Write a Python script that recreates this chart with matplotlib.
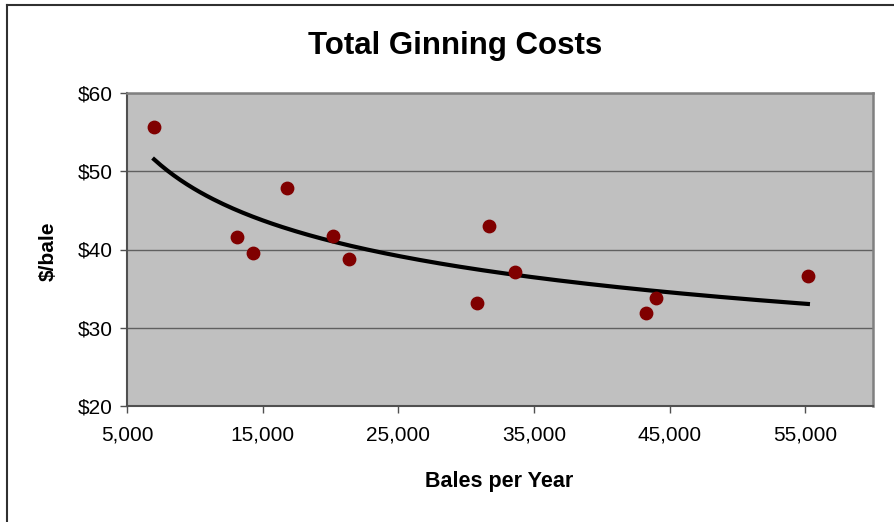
import matplotlib.pyplot as plt
import numpy as np
from matplotlib.lines import Line2D
from matplotlib.ticker import FuncFormatter

plt.rcParams['font.family'] = ['Liberation Sans', 'DejaVu Sans']

# gin volume (bales/year) and total ginning cost ($/bale)
bales = [7000, 13100, 14300, 16800, 20200, 21400, 30800, 31700, 33600, 43300, 44000, 55200]
cost = [55.7, 41.6, 39.6, 47.9, 41.7, 38.8, 33.2, 43.0, 37.1, 31.9, 33.8, 36.6]

x_ticks = [5000, 15000, 25000, 35000, 45000, 55000]
y_ticks = [20, 30, 40, 50, 60]

# power trendline y = a * x^b, fitted in log space
b, ln_a = np.polyfit(np.log(bales), np.log(cost), 1)
xs = np.linspace(min(bales), max(bales), 200)
ys = np.exp(ln_a) * xs ** b

W, H = 895, 522
fig = plt.figure(figsize=(W / 100, H / 100), dpi=100)
ax = fig.add_axes([127 / W, 1 - 406 / H, 746 / W, 313 / H])

# chart frame (left and top edges)
fig.lines.append(Line2D([7 / W, 7 / W], [0, 1 - 5 / H], transform=fig.transFigure,
                        color='#303030', linewidth=1.5))
fig.lines.append(Line2D([7 / W, 1], [1 - 5 / H, 1 - 5 / H], transform=fig.transFigure,
                        color='#303030', linewidth=1.5))

ax.set_facecolor('#C0C0C0')
ax.set_xlim(5000, 60000)
ax.set_ylim(20, 60)
ax.set_xticks(x_ticks)
ax.set_yticks(y_ticks)
ax.xaxis.set_major_formatter(FuncFormatter(lambda v, p: f'{int(v):,}'))
ax.yaxis.set_major_formatter(FuncFormatter(lambda v, p: f'${int(v)}'))
ax.grid(axis='y', color='#606060', linewidth=1.0)
ax.set_axisbelow(True)
for side in ['top', 'right']:
    ax.spines[side].set_color('#808080')
    ax.spines[side].set_linewidth(1.8)
for side in ['left', 'bottom']:
    ax.spines[side].set_color('#505050')
    ax.spines[side].set_linewidth(1.5)
ax.tick_params(direction='out', length=5, width=1, color='#505050', labelsize=15)
ax.tick_params(axis='x', pad=9)
ax.tick_params(axis='y', pad=5)

ax.plot(xs, ys, color='black', linewidth=3, zorder=3)
ax.scatter(bales, cost, s=80, color='#800000', zorder=4)

fig.text(455 / W, 1 - 54 / H, 'Total Ginning Costs', fontsize=22.5,
         fontweight='bold', ha='center', va='baseline')
fig.text(499 / W, 1 - 487 / H, 'Bales per Year', fontsize=15.5,
         fontweight='bold', ha='center', va='baseline')
fig.text(48 / W, 1 - 251 / H, '$/bale', fontsize=15, fontweight='bold',
         rotation=90, ha='center', va='center')

fig.savefig('out.png', dpi=100)
